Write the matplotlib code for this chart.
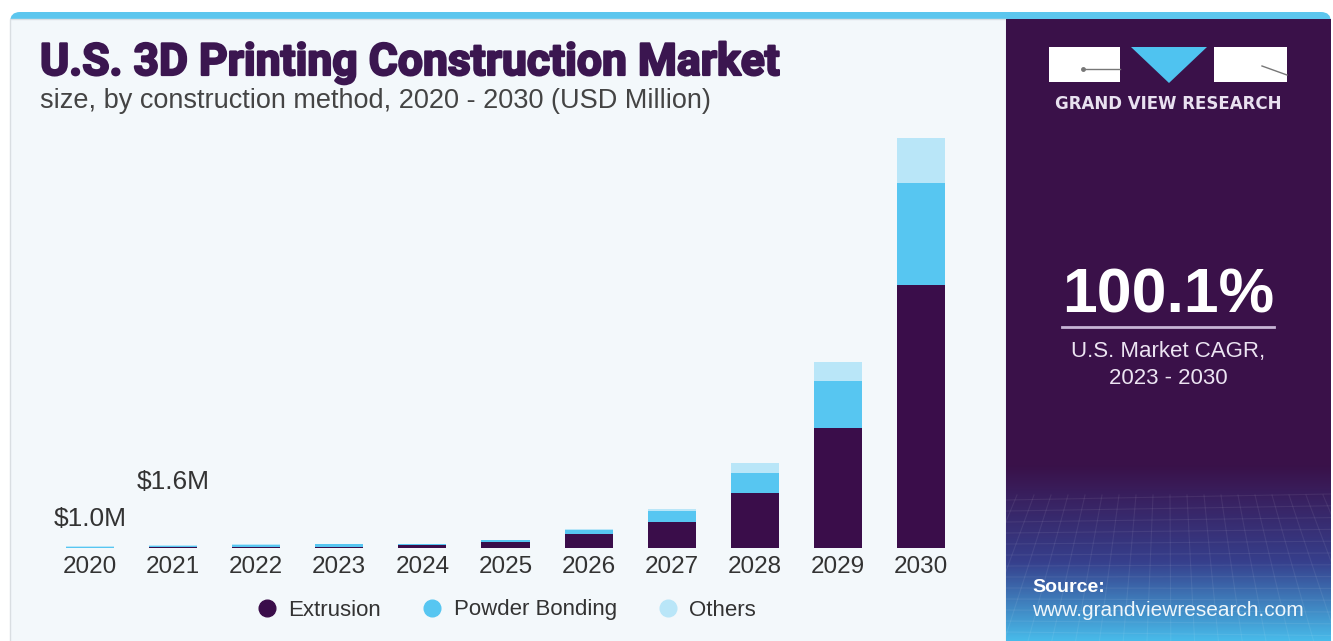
import matplotlib
matplotlib.use("Agg")
import matplotlib.pyplot as plt
import matplotlib.patheffects as pe
import numpy as np
from matplotlib.patches import Rectangle, FancyBboxPatch, Polygon
from matplotlib.lines import Line2D

# data (USD Million)
years = ['2020', '2021', '2022', '2023', '2024', '2025', '2026', '2027', '2028', '2029', '2030']
extrusion = [0.2, 0.3, 0.4, 0.6, 1.6, 3.2, 7.0, 13.0, 27.5, 60.0, 131.5]
powder_bonding = [0.5, 0.9, 1.0, 1.2, 0.4, 0.6, 2.0, 5.5, 10.0, 23.5, 51.0]
others = [0.3, 0.4, 0.5, 0.4, 0.1, 0.2, 0.5, 1.0, 5.0, 9.5, 22.5]
value_labels = {0: '$1.0M', 1: '$1.6M'}
label_offsets = {0: 15, 1: 51}

c_ext = '#3a0d4a'
c_pow = '#57c6f1'
c_oth = '#b9e6f8'
purple = '#3a1149'
W, H = 1333, 641
sans = ['Liberation Sans', 'DejaVu Sans']

fig = plt.figure(figsize=(W / 100, H / 100), dpi=100, facecolor='white')

# decorative background, in pixel coordinates
bg = fig.add_axes([0, 0, 1, 1], zorder=0)
bg.set_xlim(0, W)
bg.set_ylim(H, 0)
bg.axis('off')

bg.add_patch(FancyBboxPatch((10, 12), 1321, 660, boxstyle='round,pad=0,rounding_size=10',
                            facecolor='#5cc6ee', edgecolor='none'))
bg.add_patch(Rectangle((10, 19), 996, 630, facecolor='#f3f8fb', edgecolor='#d9dee2', lw=1))
bg.add_patch(Rectangle((1006, 19), 325, 630, facecolor=purple, edgecolor='none'))

# gradient at bottom of right panel
n = 200
top_c = np.array(matplotlib.colors.to_rgb(purple))
mid_c = np.array(matplotlib.colors.to_rgb('#363f8c'))
bot_c = np.array(matplotlib.colors.to_rgb('#48bbea'))
t = np.linspace(0, 1, n)
grad = np.zeros((n, 1, 4))
for i, v in enumerate(t):
    if v < 0.55:
        c = top_c + (mid_c - top_c) * (v / 0.55)
    else:
        c = mid_c + (bot_c - mid_c) * ((v - 0.55) / 0.45)
    grad[i, 0, :3] = c
    grad[i, 0, 3] = 1.0
bg.imshow(grad, extent=[1006, 1331, 641, 465], aspect='auto', zorder=1, interpolation='bilinear')
# faint grid texture
for k in range(14):
    yy = 500 + k * 11
    bg.plot([1006, 1331], [yy, yy - 6 + k * 0.8], color='white', alpha=0.07, lw=0.8, zorder=2)
for k in range(22):
    xx = 1000 + k * 17
    bg.plot([xx, xx + (xx - 1168) * 0.4], [495, 641], color='white', alpha=0.07, lw=0.8, zorder=2)

# logo
bg.add_patch(Rectangle((1049, 47), 71, 35, facecolor='white', zorder=3))
bg.add_patch(Rectangle((1214, 47), 73, 35, facecolor='white', zorder=3))
bg.add_patch(Polygon([[1131, 47], [1207, 47], [1169, 83]], closed=True, facecolor='#4fc3f0', zorder=3))
bg.plot([1083, 1120], [69, 69], color='#777777', lw=1, zorder=4)
bg.plot([1083], [69], marker='o', ms=2.5, color='#777777', zorder=4)
bg.plot([1262, 1287], [66, 75], color='#777777', lw=1, zorder=4)
bg.text(1168, 104, 'GRAND VIEW RESEARCH', color='#e9e1f0', fontsize=12, fontweight='bold',
        ha='center', va='center', family=['DejaVu Sans'], zorder=4)

# CAGR
bg.text(1168, 296, '100.1%', color='white', fontsize=45, fontweight='bold',
        ha='center', va='center', family=sans, zorder=4)
bg.plot([1062, 1274], [327, 327], color='#c7b4d6', lw=2, zorder=4)
bg.text(1168, 352, 'U.S. Market CAGR,', color='#ece4f2', fontsize=16, ha='center', va='center',
        family=sans, zorder=4)
bg.text(1168, 378, '2023 - 2030', color='#ece4f2', fontsize=16, ha='center', va='center',
        family=sans, zorder=4)

bg.text(1032, 588, 'Source:', color='white', fontsize=14, fontweight='bold', ha='left', va='center',
        family=sans, zorder=4)
bg.text(1032, 610, 'www.grandviewresearch.com', color='#eef6fb', fontsize=15, ha='left', va='center',
        family=sans, zorder=4)

# title
bg.text(40, 63, 'U.S. 3D Printing Construction Market', color='#3b1650', fontsize=32,
        fontweight='bold', ha='left', va='center', family=['Roboto', 'DejaVu Sans'], zorder=4,
        path_effects=[pe.withStroke(linewidth=1.6, foreground='#3b1650')])
bg.text(40, 101, 'size, by construction method, 2020 - 2030 (USD Million)', color='#444444',
        fontsize=19.5, ha='left', va='center', family=sans, zorder=4)

# chart
ax = fig.add_axes([31.8 / W, (H - 548) / H, (979.2 - 31.8) / W, 430 / H], zorder=2)
ax.patch.set_alpha(0)
x = np.arange(len(years))
bw = 0.58
ext = np.array(extrusion)
pw = np.array(powder_bonding)
ot = np.array(others)
ax.bar(x, ext, width=bw, color=c_ext, label='Extrusion')
ax.bar(x, pw, width=bw, bottom=ext, color=c_pow, label='Powder Bonding')
ax.bar(x, ot, width=bw, bottom=ext + pw, color=c_oth, label='Others')
ax.set_xlim(-0.7, 10.7)
ax.set_ylim(0, 215)
ax.set_xticks(x)
ax.set_xticklabels(years, fontsize=17.5, color='#333333', family=sans)
ax.tick_params(axis='x', length=0, pad=6)
ax.set_yticks([])
for s in ax.spines.values():
    s.set_visible(False)

tot = ext + pw + ot
for i, lab in value_labels.items():
    ax.annotate(lab, (x[i], tot[i]), xytext=(0, label_offsets[i]), textcoords='offset pixels',
                ha='center', va='bottom', fontsize=19, color='#333333', family=sans)

handles = [Line2D([], [], marker='o', ls='none', ms=12, color=c) for c in (c_ext, c_pow, c_oth)]
fig.legend(handles, ['Extrusion', 'Powder Bonding', 'Others'], loc='center', ncol=3,
           bbox_to_anchor=(506 / W, (H - 610) / H), frameon=False, handlelength=1.0,
           handletextpad=0.45, columnspacing=1.8, prop={'family': sans, 'size': 16},
           labelcolor='#333333')

fig.savefig('out.png', dpi=100, facecolor='white')
